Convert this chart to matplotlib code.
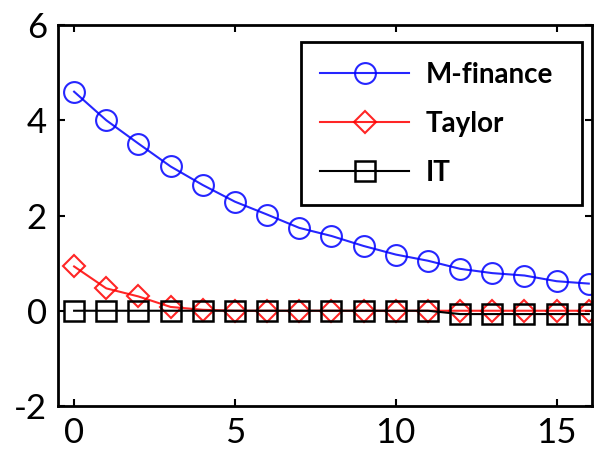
import numpy as np
import matplotlib.pyplot as plt

plt.rcParams['font.family'] = ['Lato', 'DejaVu Sans']
plt.rcParams['axes.unicode_minus'] = False

periods = list(range(17))
m_finance = [4.60, 4.00, 3.51, 3.03, 2.64, 2.29, 2.02, 1.74, 1.57, 1.36,
             1.18, 1.05, 0.88, 0.79, 0.74, 0.62, 0.57]
taylor = [0.93, 0.47, 0.30, 0.08, 0.02, 0.0, 0.0, 0.0, 0.0, 0.0,
          0.0, 0.0, 0.0, 0.0, 0.0, 0.0, 0.0]
it = [0.0, 0.0, 0.0, 0.0, 0.0, 0.0, 0.0, 0.0, 0.0, 0.0,
      0.0, 0.0, -0.07, -0.07, -0.07, -0.07, -0.07]

fig = plt.figure(figsize=(5.95, 4.59), dpi=100)
ax = fig.add_axes([0.0975, 0.1155, 0.8975, 0.83])

ax.plot(periods, m_finance, color='blue', marker='o', markersize=15,
        markerfacecolor='none', markeredgewidth=1.5, lw=1.5, label='M-finance', alpha=0.85)
ax.plot(periods, taylor, color='red', marker='D', markersize=11,
        markerfacecolor='none', markeredgewidth=1.5, lw=1.5, label='Taylor', alpha=0.85)
ax.plot(periods, it, color='black', marker='s', markersize=14,
        markerfacecolor='none', markeredgewidth=1.8, lw=1.5, label='IT')

ax.set_xlim(-0.5, 16.1)
ax.set_ylim(-2, 6)
ax.set_xticks([0, 5, 10, 15])
ax.set_yticks([-2, 0, 2, 4, 6])
ax.tick_params(direction='in', length=5, width=1.5, labelsize=25,
               top=True, right=True, pad=8)
for s in ax.spines.values():
    s.set_linewidth(2)

leg = ax.legend(loc='upper left', bbox_to_anchor=(0.455, 0.530, 0.526, 0.425),
                mode='expand', prop={'weight': 'bold', 'size': 20}, handlelength=3.2,
                labelspacing=0.83, borderpad=0.7, handletextpad=0.6,
                borderaxespad=0, fancybox=False, edgecolor='black', framealpha=1)
leg.get_frame().set_linewidth(2)

fig.savefig('out.png', dpi=100)
